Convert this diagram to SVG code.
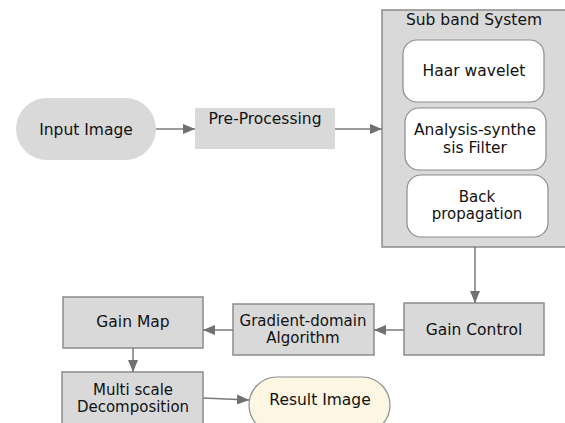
<svg xmlns="http://www.w3.org/2000/svg" width="565" height="423" viewBox="0 0 565 423">
<defs>
<style>
text{font-family:"DejaVu Sans",Verdana,sans-serif;font-size:15.5px;fill:#111;text-anchor:middle}
.ml{font-size:15px}
.box{fill:#d9d9d9;stroke:#8c8c8c;stroke-width:1.5}
.inner{fill:#fff;stroke:#8c8c8c;stroke-width:1.2}
.edge{stroke:#7a7a7a;stroke-width:1.5;fill:none;marker-end:url(#ah)}
</style>
<marker id="ah" viewBox="0 0 12 10" refX="12" refY="5" markerWidth="12" markerHeight="10" markerUnits="userSpaceOnUse" orient="auto">
<path d="M0,0 L12,5 L0,10 Z" fill="#707070"/>
</marker>
</defs>
<rect width="565" height="423" fill="#fff"/>
<g id="input-image">
<rect x="16" y="98" width="140" height="62" rx="31" fill="#d9d9d9"/>
<text x="86" y="135">Input Image</text>
</g>
<g id="pre-processing">
<rect x="195" y="108" width="140" height="41" fill="#d9d9d9"/>
<text x="265" y="124">Pre-Processing</text>
</g>
<g id="sub-band-system">
<rect x="382" y="10" width="186" height="237" class="box"/>
<text x="474" y="25">Sub band System</text>
</g>
<g id="haar-wavelet">
<rect x="403" y="40" width="141" height="62" rx="14" class="inner"/>
<text x="474" y="76">Haar wavelet</text>
</g>
<g id="analysis-synthesis">
<rect x="405" y="108" width="141" height="62" rx="14" class="inner"/>
<text x="475" y="135">Analysis-synthe</text>
<text x="475" y="153">sis Filter</text>
</g>
<g id="back-propagation">
<rect x="407" y="175" width="141" height="62" rx="14" class="inner"/>
<text class="ml" x="477" y="202">Back</text>
<text class="ml" x="477" y="219">propagation</text>
</g>
<g id="gain-control">
<rect x="404" y="303" width="140" height="52" class="box"/>
<text x="474" y="335">Gain Control</text>
</g>
<g id="gradient-domain">
<rect x="233" y="304" width="141" height="51" class="box"/>
<text class="ml" x="303" y="326">Gradient-domain</text>
<text class="ml" x="303" y="343">Algorithm</text>
</g>
<g id="gain-map">
<rect x="63" y="297" width="140" height="51" class="box"/>
<text x="133" y="327">Gain Map</text>
</g>
<g id="multi-scale">
<rect x="62" y="372" width="141" height="60" class="box"/>
<text class="ml" x="133" y="395">Multi scale</text>
<text class="ml" x="133" y="412">Decomposition</text>
</g>
<g id="result-image">
<rect x="249" y="377" width="141" height="56" rx="28" fill="#fdf6e3" stroke="#8c8c8c" stroke-width="1.2"/>
<text x="320" y="405">Result Image</text>
</g>
<g id="connectors">
<line x1="156" y1="129" x2="195" y2="129" class="edge"/>
<line x1="335" y1="129" x2="382" y2="129" class="edge"/>
<line x1="475" y1="247" x2="475" y2="303" class="edge"/>
<line x1="404" y1="330" x2="374" y2="330" class="edge"/>
<line x1="233" y1="330" x2="203" y2="330" class="edge"/>
<line x1="133" y1="348" x2="133" y2="372" class="edge"/>
<line x1="203" y1="398" x2="249" y2="400" class="edge"/>
</g>
</svg>
